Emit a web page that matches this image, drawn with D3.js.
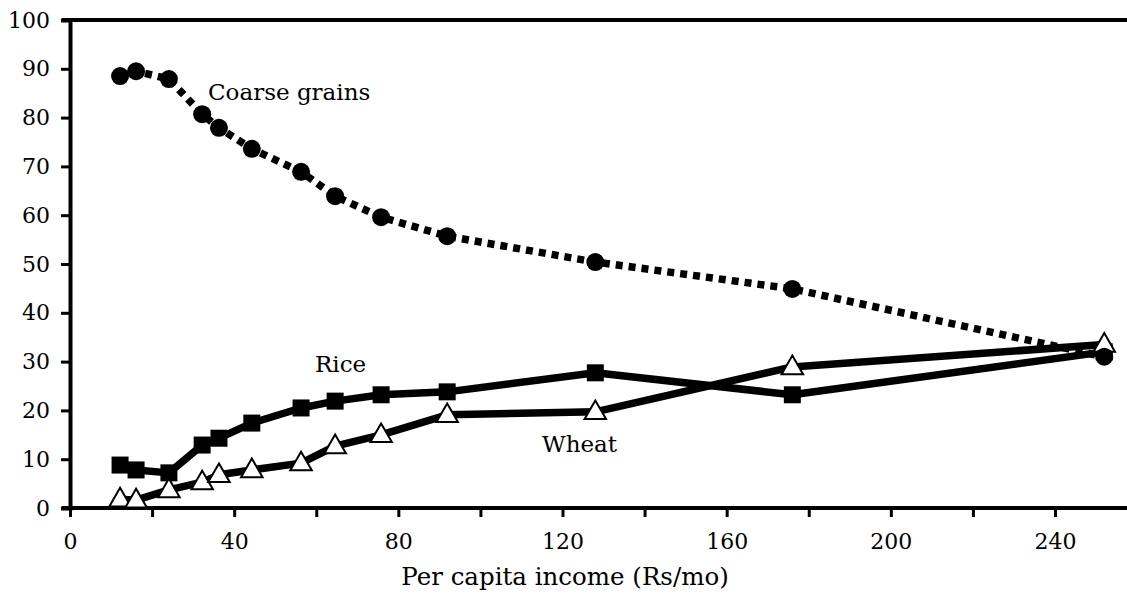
<!DOCTYPE html>
<html>
<head>
<meta charset="utf-8">
<script src="https://cdn.jsdelivr.net/npm/d3@7"></script>
<style>
  body { margin: 0; background: #fff; }
  svg text { font-family: "DejaVu Serif", serif; fill: #000; }
</style>
</head>
<body>
<div id="chart"></div>
<script>
// values
const income = [12.2, 16.1, 24.1, 32.2, 36.3, 44.3, 56.3, 64.6, 75.8, 91.9, 128, 176, 252];
const coarse = [88.5, 89.5, 87.9, 80.7, 77.9, 73.6, 68.9, 63.9, 59.6, 55.7, 50.4, 44.9, 31];
const rice = [8.8, 7.8, 7.2, 12.9, 14.3, 17.4, 20.5, 21.9, 23.2, 23.8, 27.7, 23.2, 32];
const wheat = [1.8, 1.6, 3.7, 5.3, 6.8, 7.8, 9.2, 12.7, 15.0, 19.1, 19.7, 28.9, 33.5];
const xTickLabels = [0, 40, 80, 120, 160, 200, 240];
const xMinorTicks = [0, 20, 40, 60, 80, 100, 120, 140, 160, 180, 200, 220, 240];
const yTickLabels = [0, 10, 20, 30, 40, 50, 60, 70, 80, 90, 100];

const W = 1127, H = 596;
const svg = d3.select('#chart').append('svg')
  .attr('width', W).attr('height', H);

const x = d3.scaleLinear().domain([0, 240]).range([70, 1055]);
const y = d3.scaleLinear().domain([0, 100]).range([508, 20]);

// frame: top line and left/bottom axes
svg.append('line')
  .attr('x1', 62).attr('x2', W).attr('y1', y(100)).attr('y2', y(100))
  .attr('stroke', '#000').attr('stroke-width', 4);

const yAxis = svg.append('g')
  .attr('transform', `translate(${x(0)},0)`)
  .call(d3.axisLeft(y).tickValues(yTickLabels).tickSize(9).tickPadding(11));
yAxis.select('.domain').attr('stroke-width', 4);
yAxis.selectAll('.tick line').attr('stroke-width', 3);
yAxis.selectAll('text').attr('font-size', 22).attr('font-family', 'DejaVu Serif');

svg.append('line')
  .attr('x1', 62).attr('x2', W).attr('y1', y(0)).attr('y2', y(0))
  .attr('stroke', '#000').attr('stroke-width', 4);

const xAxis = svg.append('g')
  .attr('transform', `translate(0,${y(0)})`)
  .call(d3.axisBottom(x).tickValues(xMinorTicks).tickSize(9)
    .tickFormat(d => xTickLabels.includes(d) ? d : ''));
xAxis.select('.domain').remove();
xAxis.selectAll('.tick line').attr('stroke-width', 3);
xAxis.selectAll('text').attr('font-size', 22).attr('font-family', 'DejaVu Serif').attr('dy', '1.3em');

svg.append('text')
  .attr('x', 565).attr('y', 585)
  .attr('text-anchor', 'middle').attr('font-size', 24.5)
  .text('Per capita income (Rs/mo)');

// series lines
const line = vals => d3.line()
  .x((d, i) => x(income[i]))
  .y(d => y(d))(vals);

svg.append('path').attr('d', line(wheat))
  .attr('fill', 'none').attr('stroke', '#000').attr('stroke-width', 7.5)
  .attr('stroke-linejoin', 'round');
svg.append('path').attr('d', line(rice))
  .attr('fill', 'none').attr('stroke', '#000').attr('stroke-width', 7.5)
  .attr('stroke-linejoin', 'round');
svg.append('path').attr('d', line(coarse))
  .attr('fill', 'none').attr('stroke', '#000').attr('stroke-width', 7.5)
  .attr('stroke-dasharray', '7,6');

// markers
svg.selectAll('.sq').data(rice).enter().append('rect')
  .attr('x', (d, i) => x(income[i]) - 8.5)
  .attr('y', d => y(d) - 8.5)
  .attr('width', 17).attr('height', 17)
  .attr('fill', '#000');

svg.selectAll('.tri').data(wheat).enter().append('path')
  .attr('d', d3.symbol(d3.symbolTriangle, 200))
  .attr('transform', (d, i) => `translate(${x(income[i])},${y(d) + 1})`)
  .attr('fill', '#fff').attr('stroke', '#000').attr('stroke-width', 2);

svg.selectAll('.dot').data(coarse).enter().append('circle')
  .attr('cx', (d, i) => x(income[i]))
  .attr('cy', d => y(d))
  .attr('r', 9)
  .attr('fill', '#000');

// series labels
svg.append('text').attr('x', 208).attr('y', 100).attr('font-size', 23).text('Coarse grains');
svg.append('text').attr('x', 315).attr('y', 372).attr('font-size', 23).text('Rice');
svg.append('text').attr('x', 542).attr('y', 452).attr('font-size', 23).text('Wheat');
</script>
</body>
</html>
